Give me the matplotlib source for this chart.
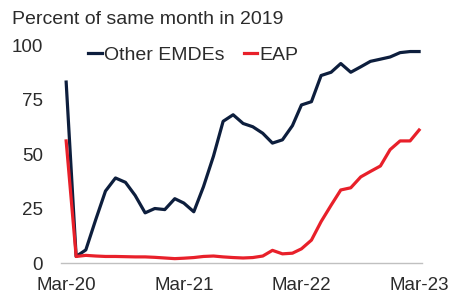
import matplotlib
matplotlib.use("Agg")
import matplotlib.pyplot as plt
import pandas as pd

# monthly data, Mar-20 .. Mar-23, percent of same month in 2019
months = pd.date_range("2020-03-01", periods=37, freq="MS")
other_emdes = [
    83, 3, 6, 20, 33, 39, 37, 31, 23, 25, 24.5, 29.5,
    27.5, 23.5, 35, 49, 65, 68, 64, 62.5, 59.5, 55, 56.5, 63,
    72.5, 74, 86, 87.5, 91.5, 87.5, 90, 92.5, 93.5, 94.5, 96.5, 97, 97,
]
eap = [
    56, 3, 3.5, 3.2, 3, 3, 2.9, 2.8, 2.8, 2.6, 2.3, 2,
    2.2, 2.5, 3, 3.2, 2.8, 2.5, 2.3, 2.5, 3.2, 5.8, 4.2, 4.5,
    6.5, 10.5, 19, 26.5, 33.5, 34.5, 39.5, 42, 44.5, 52, 56, 56, 61,
]
tick_dates = pd.to_datetime(["2020-03-01", "2021-03-01", "2022-03-01", "2023-03-01"])
tick_labels = ["Mar-20", "Mar-21", "Mar-22", "Mar-23"]
y_ticks = [0, 25, 50, 75, 100]

navy = "#0d1e3d"
red = "#e8202a"
text_col = "#2b2b2b"

plt.rcParams["font.family"] = ["Liberation Sans", "DejaVu Sans"]

fig = plt.figure(figsize=(4.59, 2.93), dpi=100)
ax = fig.add_axes([61 / 459, 1 - 263 / 293, 361 / 459, 218 / 293])

ax.plot(months, other_emdes, color=navy, lw=2.3, label="Other EMDEs", solid_joinstyle="round")
ax.plot(months, eap, color=red, lw=2.3, label="EAP", solid_joinstyle="round")

ax.set_ylim(0, 100)
ax.set_yticks(y_ticks)
ax.set_xlim(months[0] - pd.Timedelta(days=16), months[-1] + pd.Timedelta(days=9))
ax.set_xticks(tick_dates)
ax.set_xticklabels(tick_labels)

for side in ["top", "right", "left"]:
    ax.spines[side].set_visible(False)
ax.spines["bottom"].set_color("#c0c0c0")
ax.spines["bottom"].set_linewidth(1)
ax.tick_params(axis="x", length=0, pad=10, labelsize=13.5, colors=text_col)
ax.tick_params(axis="y", length=0, pad=13, labelsize=13.5, colors=text_col)

ax.legend(loc="upper left", bbox_to_anchor=(0.075, 0.995), ncol=2, frameon=False,
          fontsize=14, handlelength=0.7, handletextpad=0.1, columnspacing=1.0,
          borderaxespad=0, borderpad=0, labelcolor=text_col)

fig.text(12 / 459, 1 - 20 / 293, "Percent of same month in 2019", fontsize=14,
         color=text_col, va="center", ha="left")

fig.savefig("out.png", dpi=100)
